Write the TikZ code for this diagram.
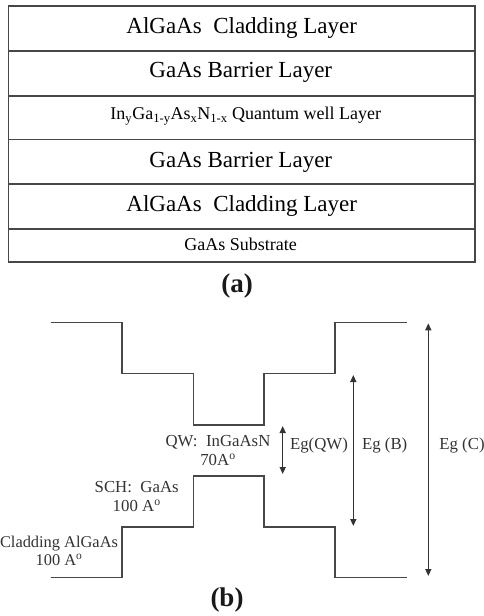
\documentclass[tikz,border=0pt]{standalone}
\usepackage{fontspec}
\setmainfont{Liberation Serif}
\usetikzlibrary{arrows.meta}
\begin{document}
\begin{tikzpicture}[x=1pt,y=-1pt,
  row/.style={draw=black!72,line width=1.6pt,minimum width=466.5pt,inner sep=0pt,text=black},
  big/.style={font=\fontsize{23}{26}\selectfont},
  small/.style={font=\fontsize{18}{20}\selectfont},
  band/.style={draw=black!72,line width=1.6pt},
  lbl/.style={text=black!80,font=\fontsize{16.8}{19}\selectfont,inner sep=0pt,align=center},
  dbl/.style={draw=black!80,line width=1.4pt,{Triangle[width=6pt,length=7pt]}-{Triangle[width=6pt,length=7pt]}},
  captxt/.style={font=\fontsize{27}{30}\selectfont\bfseries,text=black!90}]
\useasboundingbox (0,0) rectangle (484,616);
% (a) layer stack
\node[row,minimum height=45pt] (r1) at (241.75,28.5) {};
\node[row,minimum height=45pt] (r2) at (241.75,73.5) {};
\node[row,minimum height=43.5pt] (r3) at (241.75,117.75) {};
\node[row,minimum height=44.5pt] (r4) at (241.75,161.75) {};
\node[row,minimum height=45pt] (r5) at (241.75,206.5) {};
\node[row,minimum height=33pt] (r6) at (241.75,245.5) {};
\node[big] (t1) at (241.7,28.5) {AlGaAs\ \ Cladding Layer};
\node[big] (t2) at (240.8,72) {GaAs Barrier Layer};
\node[small] (t3) at (245.8,116) {In\textsubscript{y}Ga\textsubscript{1-y}As\textsubscript{x}N\textsubscript{1-x} Quantum well Layer};
\node[big] (t4) at (240.8,162) {GaAs Barrier Layer};
\node[big] (t5) at (241.7,206) {AlGaAs\ \ Cladding Layer};
\node[small] (t6) at (240.7,244) {GaAs Substrate};
\node[captxt] (capa) at (237,286) {(a)};
% (b) band diagram
\coordinate (cb1) at (50.7,322.3);
\coordinate (cb2) at (406.7,322.3);
\draw[band] (cb1) -- (121.7,322.3) -- (121.7,373.3) -- (193.3,373.3) -- (193.3,425) -- (264,425)
  -- (264,373.3) -- (335,373.3) -- (335,322.3) -- (cb2);
\coordinate (vb1) at (50.7,577.3);
\coordinate (vb2) at (406.7,577.3);
\draw[band] (vb1) -- (121.7,577.3) -- (121.7,526.7) -- (193.3,526.7) -- (193.3,475.7) -- (264,475.7)
  -- (264,526.7) -- (335,526.7) -- (335,577.3) -- (vb2);
\coordinate (qwt) at (282.7,426);
\coordinate (qwb) at (282.7,474);
\coordinate (bt) at (353.3,375);
\coordinate (bb) at (353.3,526);
\coordinate (ct) at (428.3,323.3);
\coordinate (cbt) at (428.3,576);
\draw[dbl] (qwt) -- (qwb);
\draw[dbl] (bt) -- (bb);
\draw[dbl] (ct) -- (cbt);
\node[lbl] (egqw) at (319,445) {Eg(QW)};
\node[lbl] (egb) at (384.7,445) {Eg (B)};
\node[lbl] (egc) at (462,445) {Eg (C)};
\node[lbl] (qw) at (218,451) {QW:\ \ InGaAsN\\70A\textsuperscript{o}};
\node[lbl] (sch) at (136.7,497) {SCH:\ \ GaAs\\100 A\textsuperscript{o}};
\node[lbl,font=\fontsize{16.4}{18.5}\selectfont] (clad) at (59,551) {Cladding AlGaAs\\100 A\textsuperscript{o}};
\node[captxt] (capb) at (227,600) {(b)};
\end{tikzpicture}
\end{document}
